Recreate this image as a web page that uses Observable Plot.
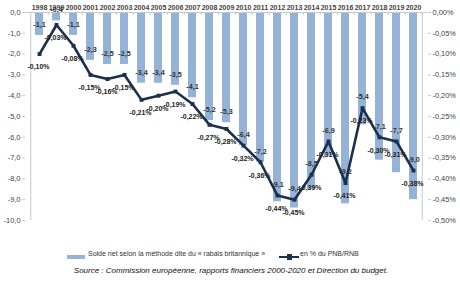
<!DOCTYPE html>
<html><head><meta charset="utf-8">
<script src="https://cdn.jsdelivr.net/npm/d3@7"></script>
<script src="https://cdn.jsdelivr.net/npm/@observablehq/plot@0.6"></script>
<style>
body{margin:0;background:#fff;font-family:"Liberation Sans",Arial,sans-serif;}
#wrap{width:460px;position:relative;}
.legend{position:relative;font-size:7px;color:#333;height:14px;margin-top:18px;}
.legend > *{position:absolute;top:0;}
.source{font-style:italic;font-size:8px;color:#111;text-align:center;margin-top:2px;padding-left:2px;}
</style></head>
<body><div id="wrap"></div>
<script>
const years = ["1998","1999","2000","2001","2002","2003","2004","2005","2006","2007","2008","2009","2010","2011","2012","2013","2014","2015","2016","2017","2018","2019","2020"];
const solde = [-1.1,-0.4,-1.1,-2.3,-2.5,-2.5,-3.4,-3.4,-3.5,-4.1,-5.2,-5.3,-6.4,-7.2,-9.1,-9.4,-8.5,-6.9,-9.2,-5.4,-7.1,-7.7,-9.0];
const pctPNB = [-0.10,-0.03,-0.08,-0.15,-0.16,-0.15,-0.21,-0.20,-0.19,-0.22,-0.27,-0.28,-0.32,-0.36,-0.44,-0.45,-0.39,-0.31,-0.41,-0.23,-0.30,-0.31,-0.38];
const leftTicks = [0,-1,-2,-3,-4,-5,-6,-7,-8,-9,-10];
const rightTicks = [0,-0.05,-0.10,-0.15,-0.20,-0.25,-0.30,-0.35,-0.40,-0.45,-0.50];

const ratio = 20; // -0.50% aligns with -10
const data = years.map((y,i)=>({year:y, v:solde[i], p:pctPNB[i], pv:pctPNB[i]*ratio}));
const fmt1 = d => (d<0?"-":"") + Math.abs(d).toFixed(1).replace(".",",");
const fmtP = d => (d<0?"-":"") + Math.abs(d).toFixed(2).replace(".",",") + "%";
const barColor = "#95b3d7", lineColor = "#1c2f4d";
const ff = "Liberation Sans";

const chart = Plot.plot({
  width:460, height:232, marginLeft:25, marginRight:33, marginTop:12, marginBottom:12,
  style:{fontFamily:ff, fontSize:"8px", color:"#333", background:"#fff"},
  x:{domain:years, padding:0.52, axis:null, label:null},
  y:{domain:[-10,0], axis:null, label:null},
  marks:[
    Plot.barY(data,{x:"year", y:"v", fill:barColor}),
    Plot.ruleY([0],{stroke:"#c8c8c8"}),
    Plot.ruleX(years,{x:d=>d, y1:0, y2:-0.15, dx:8.74, stroke:"#c8c8c8"}),
    Plot.axisX({anchor:"top", label:null, tickSize:0, tickPadding:3, fontSize:7, fontWeight:"bold", fontFamily:ff, fill:"#444"}),
    Plot.axisY({anchor:"left", label:null, ticks:leftTicks, tickFormat:fmt1, tickSize:3, tickPadding:2, stroke:"#c8c8c8", fontSize:7.4, fontFamily:ff, fill:"#444"}),
    Plot.axisY({anchor:"right", label:null, ticks:rightTicks.map(t=>t*ratio), tickFormat:d=>fmtP(d/ratio), tickSize:3, tickPadding:2, stroke:"#c8c8c8", fontSize:7.4, fontFamily:ff, fill:"#444"}),
    Plot.ruleX([years[0]],{dx:-8.74, y1:0, y2:-10, stroke:"#c8c8c8"}),
    Plot.ruleX([years[years.length-1]],{dx:8.74, y1:0, y2:-10, stroke:"#c8c8c8"}),
    Plot.text(data,{x:"year", y:d=>Math.max(d.v, d.pv), text:d=>fmt1(d.v), dy:-11, fontSize:7.2, fontWeight:"bold", fontFamily:ff, fill:"#333"}),
    Plot.line(data,{x:"year", y:"pv", stroke:lineColor, strokeWidth:2.6}),
    Plot.dot(data,{x:"year", y:"pv", symbol:"square", r:2.2, fill:lineColor}),
    Plot.text(data,{x:"year", y:"pv", text:d=>fmtP(d.p), dx:-1, dy:13, fontSize:7, fontWeight:"bold", fontFamily:ff, fill:"#222"})
  ]
});
const wrap = document.getElementById("wrap");
wrap.appendChild(chart);
const leg = document.createElement("div");
leg.className="legend";
leg.innerHTML = `<span style="left:67px;top:5px;width:18px;height:4px;background:${barColor}"></span><span style="left:88px;">Solde net selon la méthode dite du « rabais britannique »</span>
<span style="left:279px;top:6px;width:20px;height:2px;background:${lineColor}"></span><span style="left:287px;top:4px;width:5px;height:6px;background:${lineColor}"></span><span style="left:300px;">en % du PNB/RNB</span>`;
wrap.appendChild(leg);
const src = document.createElement("div");
src.className="source";
src.textContent="Source : Commission européenne, rapports financiers 2000-2020 et Direction du budget.";
wrap.appendChild(src);
</script></body></html>
